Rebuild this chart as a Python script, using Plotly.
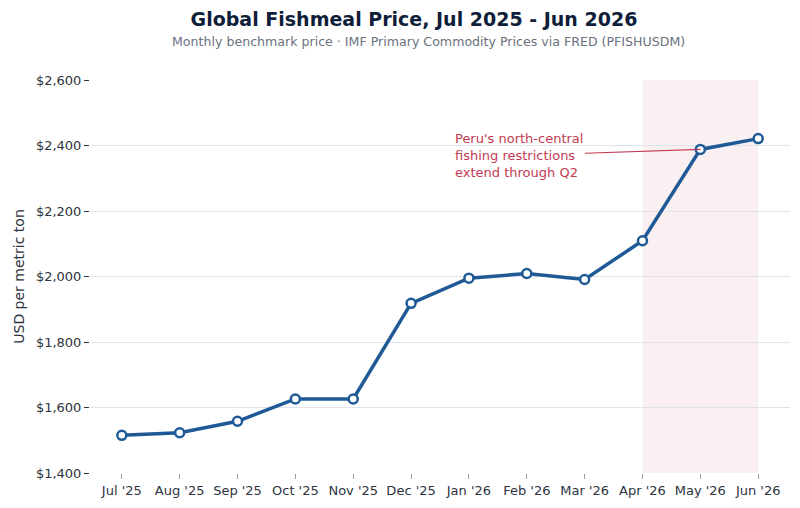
import plotly.graph_objects as go

months = ["Jul '25", "Aug '25", "Sep '25", "Oct '25", "Nov '25", "Dec '25",
          "Jan '26", "Feb '26", "Mar '26", "Apr '26", "May '26", "Jun '26"]
prices = [1515, 1523, 1558, 1626, 1626, 1918, 1995, 2009, 1991, 2109, 2388, 2421]
y_ticks = [1400, 1600, 1800, 2000, 2200, 2400, 2600]
y_tick_labels = ["$1,400", "$1,600", "$1,800", "$2,000", "$2,200", "$2,400", "$2,600"]

LINE = "#1f5a96"
RED = "#c23a52"
FONT = "DejaVu Sans"

fig = go.Figure()
fig.add_trace(go.Scatter(
    x=list(range(len(months))), y=prices, mode="lines+markers",
    line=dict(color=LINE, width=3.5),
    marker=dict(size=9, color="white", line=dict(color=LINE, width=2.5)),
    showlegend=False, hoverinfo="x+y",
))

fig.add_vrect(x0=9, x1=11, fillcolor="rgba(190,60,90,0.08)", line_width=0, layer="below")

fig.add_annotation(
    x=10, y=prices[10], xref="x", yref="y",
    text="Peru's north-central<br>fishing restrictions<br>extend through Q2",
    showarrow=True, arrowhead=0, arrowwidth=1.2, arrowcolor=RED,
    ax=-181, ay=6, align="left",
    font=dict(family=FONT, size=13, color=RED),
)

PLOT_H = 508 - 80 - 29
fig.add_annotation(
    text="Monthly benchmark price · IMF Primary Commodity Prices via FRED (PFISHUSDM)",
    xref="paper", yref="paper", x=(428 - 90) / 700, y=(508 - 29 - 41) / PLOT_H,
    xanchor="center", yanchor="middle",
    showarrow=False, font=dict(family=FONT, size=12.6, color="#6b7280"),
)

fig.update_layout(
    width=800, height=508,
    margin=dict(l=90, r=10, t=80, b=29),
    paper_bgcolor="white", plot_bgcolor="white",
    font=dict(family=FONT, color="#2d3340"),
    title=dict(
        text="<b>Global Fishmeal Price, Jul 2025 - Jun 2026</b>",
        x=414 / 800, xanchor="center", y=1 - 19 / 508, yanchor="middle",
        font=dict(family=FONT, size=19, color="#0f1e3a"),
    ),
    xaxis=dict(
        tickmode="array", tickvals=list(range(len(months))), ticktext=months,
        range=[-0.55, 11.55], showgrid=False, zeroline=False,
        ticks="outside", ticklen=5, tickcolor="#9aa0a8",
        tickfont=dict(size=13, color="#2d3340"),
        showline=False,
    ),
    yaxis=dict(
        tickmode="array", tickvals=y_ticks, ticktext=y_tick_labels,
        range=[1400, 2600], showgrid=True, gridcolor="#dfe3ea", gridwidth=1,
        zeroline=False, ticks="outside", ticklen=5, tickcolor="#2d3340",
        tickfont=dict(size=13, color="#2d3340"),
        title=dict(text="USD per metric ton", font=dict(size=14, color="#2d3340"), standoff=8),
        showline=False,
    ),
)

fig.write_html("out.html")
